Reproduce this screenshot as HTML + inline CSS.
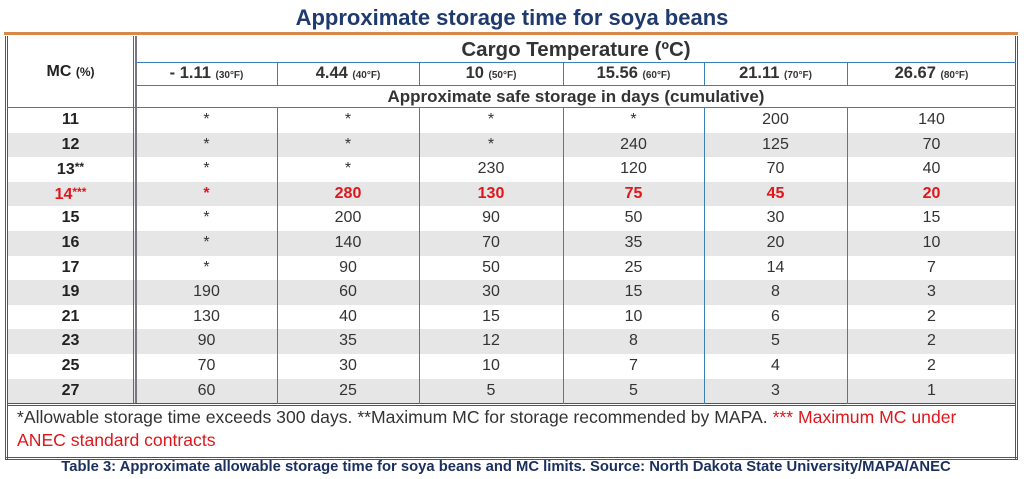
<!DOCTYPE html>
<html><head><meta charset="utf-8">
<style>
html,body{margin:0;padding:0;background:#fff;}
body{width:1024px;height:479px;position:relative;overflow:hidden;font-family:"Liberation Sans",Arial,sans-serif;}
.a{position:absolute;}
.t{position:absolute;text-align:center;white-space:nowrap;}
.s{font-size:10px;font-weight:bold;}
</style></head><body>
<div class="t" style="left:0;width:1024px;top:5px;font-size:22px;font-weight:bold;color:#1f3a6e;">Approximate storage time for soya beans</div>
<div class="a" style="left:4px;top:32px;width:1014px;height:3px;background:#d8894a;"></div>
<div id="tbl" class="a" style="left:0;top:0;width:1024px;height:479px;"></div>
<div class="t" style="left:-6px;width:1024px;top:459px;font-size:14.8px;font-weight:bold;color:#1a2f5e;">Table 3: Approximate allowable storage time for soya beans and MC limits. Source: North Dakota State University/MAPA/ANEC</div>
<script>
const mcLabels=["11","12","13**","14***","15","16","17","19","21","23","25","27"];
const tempC=["- 1.11","4.44","10","15.56","21.11","26.67"];
const tempF=["(30°F)","(40°F)","(50°F)","(60°F)","(70°F)","(80°F)"];
const col1=["*","*","*","*","*","*","*","190","130","90","70","60"];
const col2=["*","*","*","280","200","140","90","60","40","35","30","25"];
const col3=["*","*","230","130","90","70","50","30","15","12","10","5"];
const col4=["*","240","120","75","50","35","25","15","10","8","7","5"];
const col5=["200","125","70","45","30","20","14","8","6","5","4","3"];
const col6=["140","70","40","20","15","10","7","3","2","2","2","1"];
const cols=[col1,col2,col3,col4,col5,col6];
const T=document.getElementById('tbl');
const colX=[136,277,419,563,704,847,1016];
const rowTop=108,rowH=24.6,blue="#3b7fb8";
function add(css,text,name){const d=document.createElement('div');d.className=text!==null?'t':'a';d.style.cssText=css;if(text!==null)d.innerHTML=text;


T.appendChild(d);return d;}
mcLabels.forEach((m,i)=>{if(i%2==1)add(`left:7px;width:1009px;top:${rowTop+i*rowH}px;height:${rowH}px;background:#e6e6e6;`,null,'row-band');});
add('left:5px;top:36px;width:1px;height:423px;background:#555;',null,'outer-border-left');
add('left:7px;top:36px;width:1px;height:423px;background:#555;',null,'outer-border-left-inner');
add('left:1015px;top:36px;width:1px;height:423px;background:#555;',null,'outer-border-right');
add('left:1017px;top:36px;width:1px;height:423px;background:#555;',null,'outer-border-right-outer');
add('left:5px;top:457px;width:1013px;height:1px;background:#555;',null,'outer-border-bottom');
add('left:5px;top:459px;width:1013px;height:1px;background:#555;',null,'outer-border-bottom-outer');
add('left:133px;top:36px;width:1px;height:368px;background:#667;',null,'mc-divider');
add('left:135px;top:36px;width:2px;height:368px;background:#778;',null,'mc-divider-2');
add('left:136px;top:62px;width:880px;height:1px;background:'+blue+';',null,'header-line-1');
add('left:136px;top:85px;width:880px;height:1px;background:'+blue+';',null,'header-line-2');
add('left:7px;top:107px;width:1009px;height:1px;background:'+blue+';',null,'header-line-3');
add('left:7px;top:403px;width:1009px;height:1px;background:#555;',null,'footer-line');
add('left:7px;top:405px;width:1009px;height:1px;background:#555;',null,'footer-line-2');
for(let c=1;c<6;c++){add(`left:${colX[c]}px;top:62px;width:1px;height:24px;background:${blue};`,null,'col-divider-head');
add(`left:${colX[c]}px;top:108px;width:1px;height:296px;background:${blue};`,null,'col-divider');}
add('left:7px;width:127px;top:63px;font-size:16px;font-weight:bold;color:#222;','MC <span style="font-size:12px">(%)</span>','mc-header');
add('left:136px;width:880px;top:38px;font-size:20.5px;font-weight:bold;color:#333;','Cargo Temperature (ºC)','cargo-temp-header');
add('left:136px;width:880px;top:87px;font-size:17px;font-weight:bold;color:#333;','Approximate safe storage in days (cumulative)','days-header');
tempC.forEach((t,c)=>{add(`left:${colX[c]}px;width:${colX[c+1]-colX[c]}px;top:64px;font-size:16.5px;font-weight:bold;color:#333;`,t+' <span class="s">'+tempF[c]+'</span>','temp-header');});
mcLabels.forEach((m,i)=>{const red=i==3;const y=rowTop+i*rowH+3;
add(`left:7px;width:127px;top:${y}px;font-size:16px;font-weight:bold;color:${red?'#e0161b':'#222'};`,m.replace(/(\*+)/,'<span style="font-size:12px;vertical-align:3px">$1</span>'),'mc-label');
cols.forEach((col,c)=>{add(`left:${colX[c]}px;width:${colX[c+1]-colX[c]}px;top:${y}px;font-size:16px;${red?'font-weight:bold;color:#e0161b;':'color:#333;'}`,col[i],'cell-value');});});
add('left:17px;top:407px;font-size:17.6px;color:#333;text-align:left;','*Allowable storage time exceeds 300 days. **Maximum MC for storage recommended by MAPA. <span style="color:#e0161b">*** Maximum MC under</span>','footnote-line-1');
add('left:17px;top:430px;font-size:17.6px;color:#e0161b;text-align:left;','ANEC standard contracts','footnote-line-2');
</script>
</body></html>
